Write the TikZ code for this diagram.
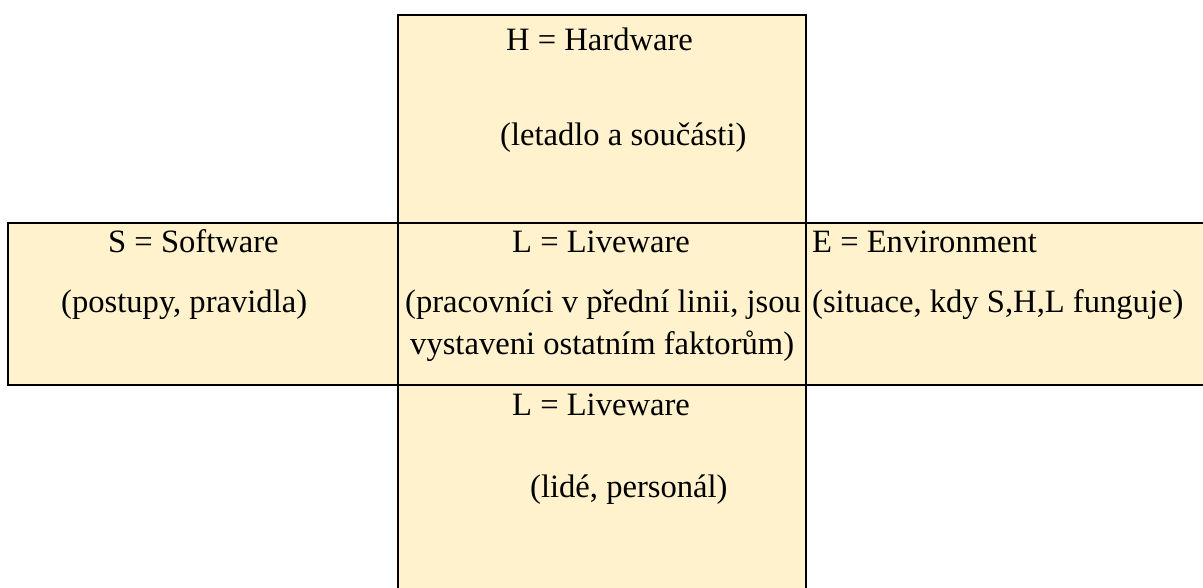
\documentclass[tikz,border=0pt]{standalone}
\usepackage{fontspec}
\setmainfont{Liberation Serif}
\definecolor{boxfill}{RGB}{255,242,204}
\begin{document}
\begin{tikzpicture}[x=1pt,y=-1pt,
  cell/.style={draw=black,fill=boxfill,line width=2.5pt},
  lbl/.style={anchor=base west,inner sep=0pt,font=\fontsize{32.6}{38}\selectfont}]
\useasboundingbox (0,0) rectangle (1203,587);
\clip (0,0) rectangle (1203,587);
% the five cells of the SHELL model
\draw[cell] (398,15) rectangle (806,223);
\draw[cell] (8,223) rectangle (398,385);
\draw[cell] (398,223) rectangle (806,385);
\draw[cell] (806,223) rectangle (1215,385);
\draw[cell] (398,385) rectangle (806,600);
% texts
\node[lbl] (h1) at (506,50) {H = Hardware};
\node[lbl] (h2) at (500,145) {(letadlo a součásti)};
\node[lbl] (s1) at (108,252) {S = Software};
\node[lbl] (s2) at (61,312) {(postupy, pravidla)};
\node[lbl] (l1) at (512,252) {L = Liveware};
\node[lbl] (l2) at (405,312) {(pracovníci v přední linii, jsou};
\node[lbl] (l3) at (410,354) {vystaveni ostatním faktorům)};
\node[lbl] (e1) at (812,252) {E = Environment};
\node[lbl] (e2) at (812,312) {(situace, kdy S,H,L funguje)};
\node[lbl] (b1) at (512,415) {L = Liveware};
\node[lbl] (b2) at (530,497) {(lidé, personál)};
\end{tikzpicture}
\end{document}
